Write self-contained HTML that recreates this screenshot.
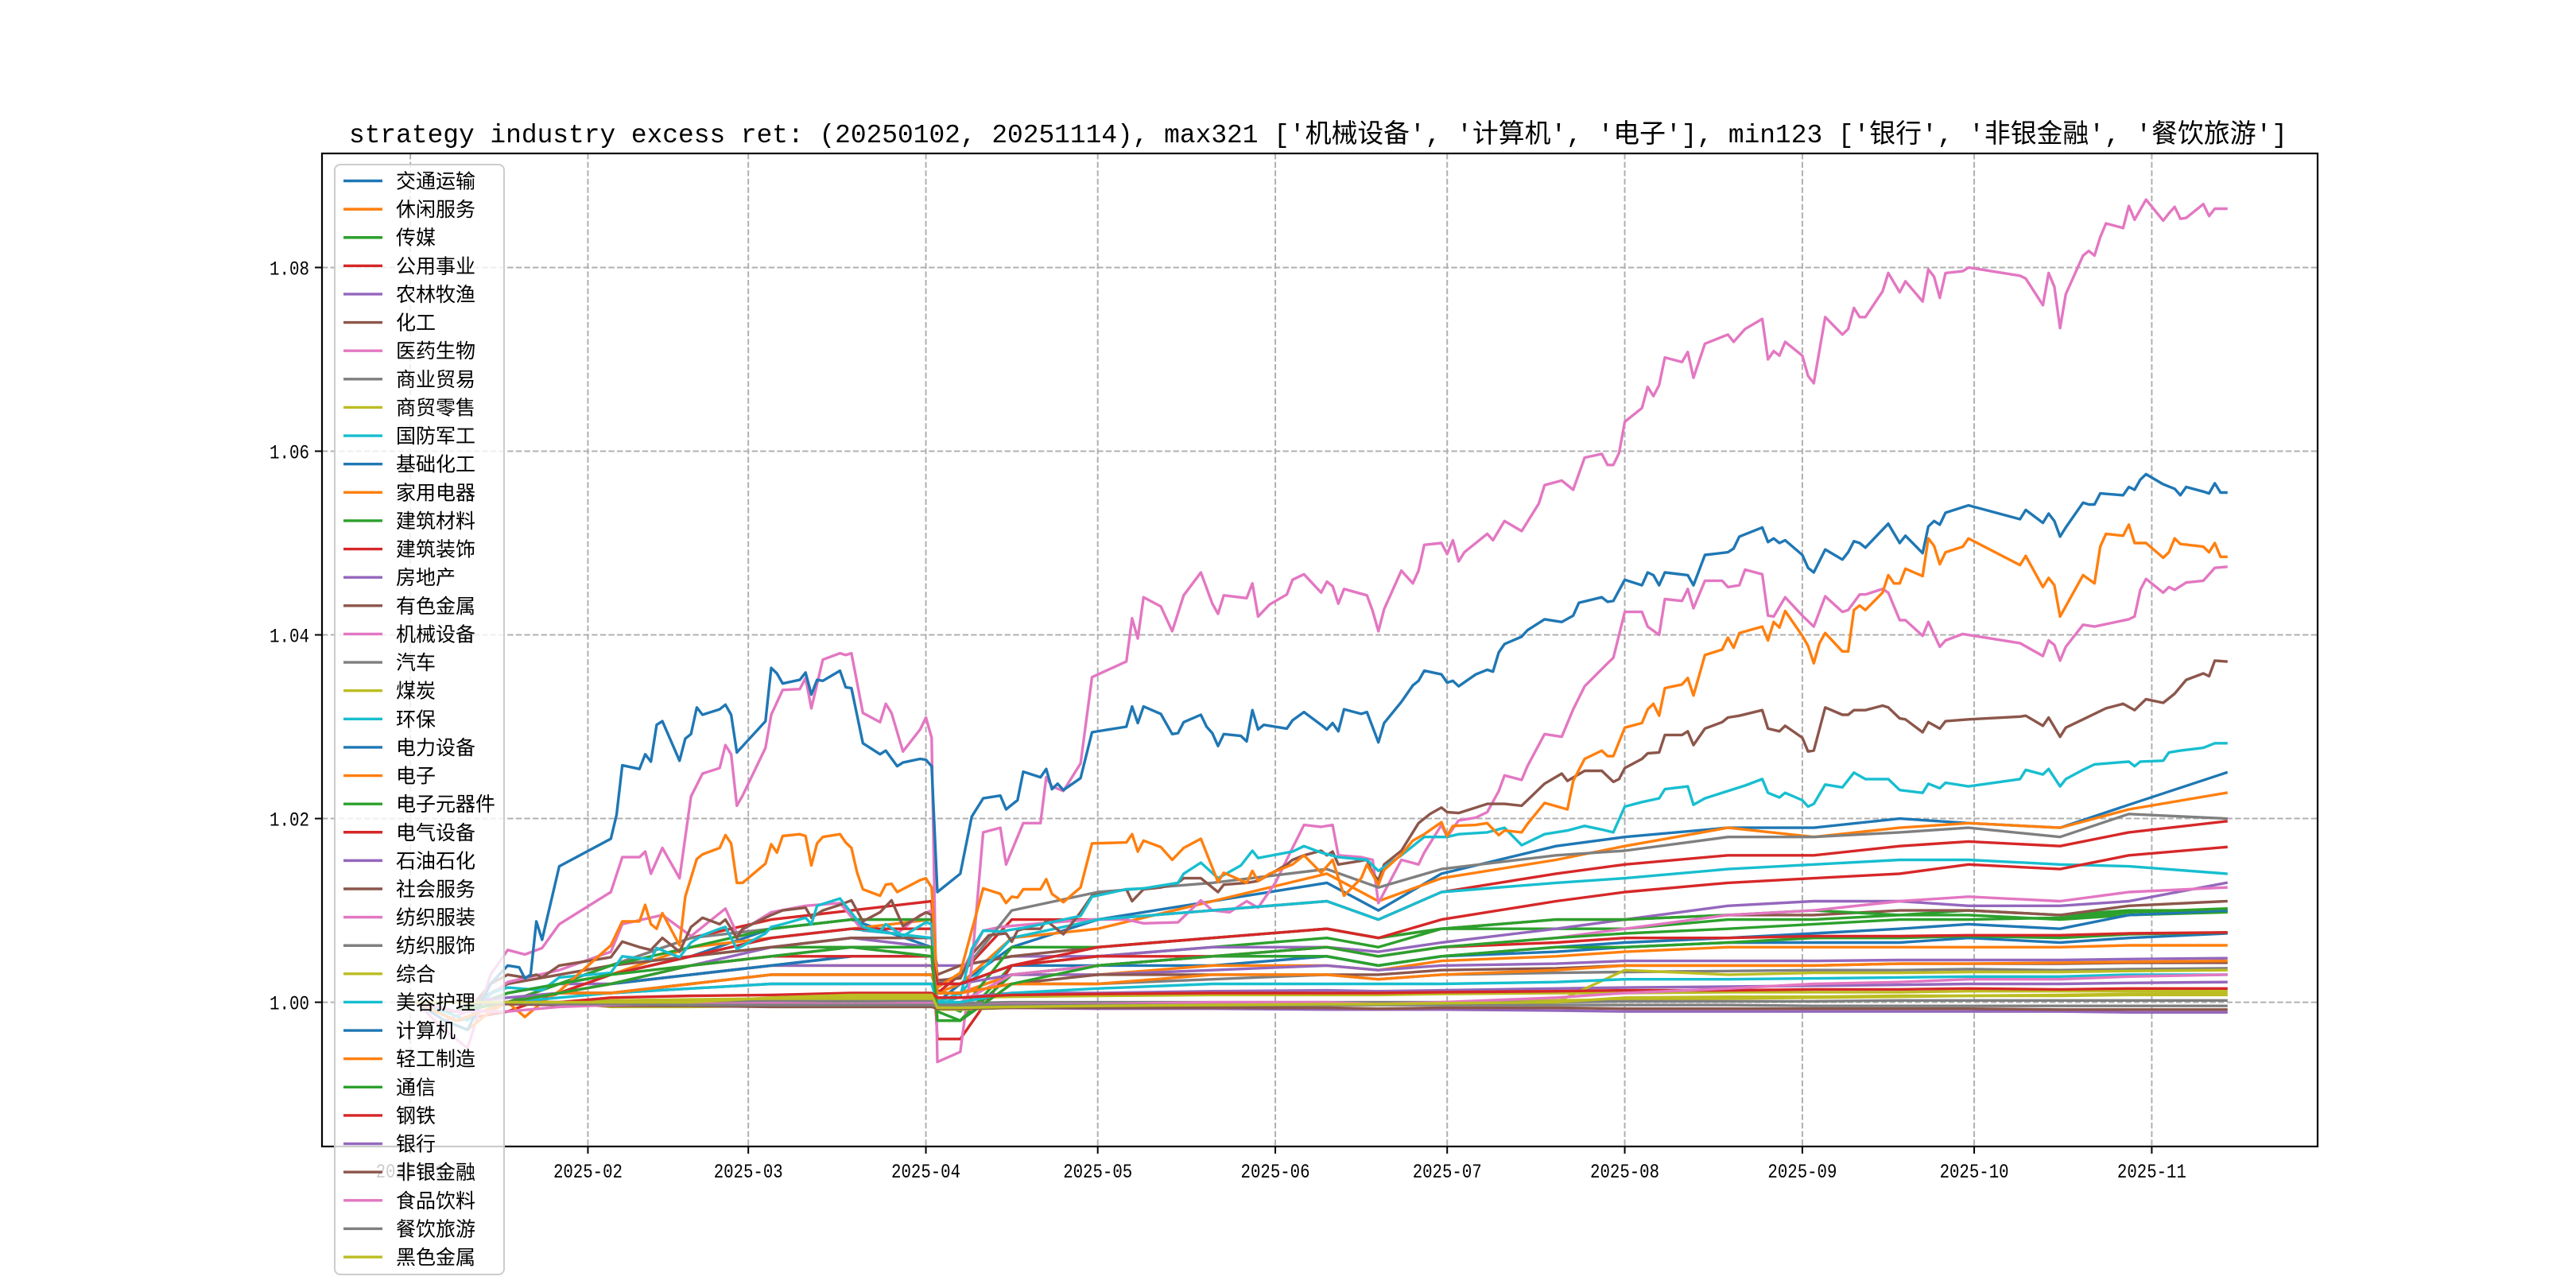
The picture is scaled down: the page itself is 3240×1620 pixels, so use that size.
<!DOCTYPE html>
<html><head><meta charset="utf-8">
<style>
html,body{margin:0;padding:0;background:#fff;}
svg{display:block;}
</style></head>
<body>
<svg id="chart" xmlns="http://www.w3.org/2000/svg" width="3240" height="1620" viewBox="0 0 3240 1620">
<rect x="0" y="0" width="3240" height="1620" fill="#fff"/>
<text x="1658" y="179" text-anchor="middle" font-size="33" textLength="2438" lengthAdjust="spacingAndGlyphs" font-family="'Liberation Mono','Noto Sans CJK SC',monospace" fill="#000">strategy industry excess ret: (20250102, 20251114), max321 ['机械设备', '计算机', '电子'], min123 ['银行', '非银金融', '餐饮旅游']</text>
<g id="grid"></g>
<g id="lines"></g>
<g id="axes"></g>
<g id="legend"></g>
</svg>
<script>
const names = ["交通运输","休闲服务","传媒","公用事业","农林牧渔","化工","医药生物","商业贸易","商贸零售","国防军工","基础化工","家用电器","建筑材料","建筑装饰","房地产","有色金属","机械设备","汽车","煤炭","环保","电力设备","电子","电子元器件","电气设备","石油石化","社会服务","纺织服装","纺织服饰","综合","美容护理","计算机","轻工制造","通信","钢铁","银行","非银金融","食品饮料","餐饮旅游","黑色金属"];
const palette = ["#1f77b4","#ff7f0e","#2ca02c","#d62728","#9467bd","#8c564b","#e377c2","#7f7f7f","#bcbd22","#17becf"];
const yTicks = [1.00,1.02,1.04,1.06,1.08];
const yTickLabels = ["1.00","1.02","1.04","1.06","1.08"];
const xTickDays = [0,31,59,90,120,151,181,212,243,273,304];
const xTickLabels = ["2025-01","2025-02","2025-03","2025-04","2025-05","2025-06","2025-07","2025-08","2025-09","2025-10","2025-11"];

const coarseDays = [1,8,17,26,35,49,63,77,91,92,96,105,120,140,160,169,180,200,212,230,245,260,272,288,300,317];
const coarseValues = {
"交通运输":[1,0.999,1.001,1.002,1.003,1.005,1.008,1.009,1.006,1.0,1.002,1.006,1.009,1.011,1.013,1.010,1.014,1.017,1.018,1.019,1.019,1.020,1.0195,1.019,1.0215,1.025],
"休闲服务":[1,0.998,1.0,1.001,1.003,1.006,1.007,1.008,1.009,1.001,1.002,1.007,1.008,1.011,1.014,1.011,1.0135,1.0155,1.017,1.019,1.018,1.019,1.0195,1.019,1.021,1.0228],
"传媒":[1,0.999,1.001,1.002,1.003,1.005,1.006,1.006,1.006,0.998,0.998,1.004,1.005,1.006,1.007,1.006,1.008,1.008,1.008,1.009,1.009,1.0095,1.010,1.0095,1.010,1.010],
"公用事业":[1,0.998,1.0,1.002,1.004,1.007,1.009,1.010,1.011,1.001,1.003,1.009,1.009,1.010,1.011,1.009,1.012,1.014,1.015,1.016,1.016,1.017,1.0175,1.017,1.0185,1.0197],
"农林牧渔":[1,0.999,1.001,1.002,1.002,1.004,1.006,1.007,1.006,1.004,1.004,1.005,1.005,1.006,1.006,1.0055,1.0065,1.008,1.009,1.0105,1.011,1.011,1.0105,1.0105,1.011,1.013],
"化工":[1,0.999,1.002,1.003,1.004,1.005,1.006,1.007,1.007,1.003,1.004,1.005,1.006,1.007,1.008,1.007,1.008,1.009,1.009,1.0095,1.0095,1.010,1.010,1.0095,1.0105,1.011],
"商业贸易":[1,0.999,1.001,1.002,1.004,1.007,1.008,1.009,1.009,1.002,1.003,1.010,1.012,1.013,1.0145,1.0125,1.0145,1.016,1.0165,1.018,1.018,1.0185,1.019,1.018,1.0205,1.020],
"商贸零售":[1,1.0,1.0,1.0,1.0002,1.0003,1.0004,1.0005,1.0006,1.0004,1.0005,1.0006,1.0007,1.0008,1.0008,1.0008,1.0009,1.001,1.001,1.0011,1.0011,1.0011,1.0012,1.0012,1.0012,1.0012],
"国防军工":[1,0.999,1.001,1.002,1.003,1.005,1.007,1.008,1.007,1.0,1.001,1.007,1.009,1.010,1.011,1.009,1.012,1.013,1.0135,1.0145,1.015,1.0155,1.0155,1.015,1.0148,1.014],
"基础化工":[1,0.999,1.0,1.001,1.002,1.003,1.004,1.005,1.005,1.001,1.001,1.003,1.004,1.004,1.005,1.004,1.005,1.0055,1.006,1.0065,1.0065,1.0065,1.007,1.0065,1.007,1.0075],
"家用电器":[1,0.999,1.0,1.001,1.002,1.003,1.004,1.004,1.004,1.001,1.001,1.003,1.003,1.004,1.004,1.0035,1.0045,1.005,1.0055,1.006,1.006,1.006,1.006,1.006,1.0062,1.0062],
"建筑材料":[1,0.998,1.0,1.002,1.004,1.006,1.008,1.009,1.009,1.0,0.999,1.006,1.006,1.007,1.008,1.007,1.008,1.009,1.009,1.0095,1.010,1.0095,1.0095,1.009,1.0095,1.0098],
"建筑装饰":[1,0.998,0.999,1.001,1.003,1.005,1.007,1.008,1.008,0.996,0.996,1.004,1.006,1.007,1.008,1.007,1.009,1.011,1.012,1.013,1.0135,1.014,1.015,1.0145,1.016,1.0169],
"房地产":[1,0.999,1.0,1.001,1.002,1.003,1.004,1.004,1.004,1.002,1.002,1.003,1.003,1.0035,1.004,1.0035,1.004,1.0042,1.0045,1.0045,1.0045,1.0046,1.0046,1.0046,1.0047,1.0048],
"汽车":[1,0.999,1.0,1.001,1.001,1.002,1.003,1.003,1.003,1.001,1.001,1.002,1.002,1.0025,1.003,1.0025,1.003,1.0032,1.0033,1.0034,1.0035,1.0035,1.0036,1.0035,1.0036,1.0037],
"煤炭":[1,1.0,1.0,1.0,1.0,1.0001,1.0002,1.0003,1.0003,0.9995,0.9995,0.9997,0.9998,0.9999,1.0,0.9999,1.0,1.0002,1.0003,1.0004,1.0005,1.0006,1.0007,1.0007,1.0008,1.0008],
"电力设备":[1,0.999,1.0,1.001,1.002,1.003,1.004,1.005,1.005,1.002,1.002,1.004,1.004,1.005,1.005,1.004,1.005,1.006,1.0065,1.007,1.0075,1.008,1.0085,1.008,1.0095,1.010],
"电子元器件":[1,0.999,1.001,1.002,1.003,1.004,1.005,1.006,1.006,0.998,0.998,1.003,1.004,1.005,1.005,1.004,1.005,1.006,1.006,1.0065,1.007,1.007,1.0072,1.007,1.0074,1.0076],
"电气设备":[1,0.999,1.0,1.001,1.002,1.004,1.005,1.005,1.005,1.002,1.002,1.004,1.005,1.005,1.006,1.005,1.006,1.0065,1.007,1.007,1.0072,1.0072,1.0073,1.0073,1.0075,1.0076],
"石油石化":[1,1.0,1.0005,1.001,1.001,1.0015,1.002,1.002,1.002,1.0005,1.0005,1.001,1.001,1.0012,1.0013,1.0012,1.0013,1.0015,1.0016,1.0017,1.0018,1.0019,1.002,1.002,1.0021,1.0022],
"社会服务":[1,0.999,1.0,1.001,1.001,1.002,1.003,1.003,1.003,1.001,1.001,1.002,1.003,1.003,1.003,1.003,1.0035,1.0037,1.004,1.004,1.004,1.0042,1.0042,1.0042,1.0043,1.0043],
"纺织服装":[1,0.998,1.0,1.001,1.002,1.004,1.005,1.006,1.005,1.0,1.0,1.003,1.004,1.005,1.006,1.005,1.006,1.007,1.008,1.0095,1.010,1.011,1.0115,1.011,1.012,1.0125],
"纺织服饰":[1,1.0,1.0,1.0,1.0,1.0,1.0001,1.0001,1.0001,0.9999,0.9999,1.0,1.0,1.0,1.0,1.0,1.0,1.0,1.0001,1.0001,1.0001,1.0002,1.0002,1.0002,1.0002,1.0002],
"综合":[1,1.0,1.0,1.0,0.9995,0.9995,0.9996,0.9997,0.9997,0.9992,0.9992,0.9994,0.9995,0.9996,0.9997,0.9997,0.9998,1.0,1.0035,1.003,1.0032,1.0032,1.0033,1.0033,1.0034,1.0035],
"美容护理":[1,1.0,1.0,1.0005,1.001,1.0015,1.002,1.002,1.002,1.0,1.0,1.001,1.0015,1.002,1.002,1.002,1.002,1.0022,1.0025,1.0025,1.0026,1.0027,1.0028,1.0028,1.003,1.003],
"轻工制造":[1,0.998,1.0,1.001,1.001,1.002,1.003,1.003,1.003,1.001,1.001,1.002,1.002,1.003,1.003,1.0025,1.003,1.0035,1.004,1.004,1.004,1.0042,1.0042,1.0043,1.0044,1.0045],
"通信":[1,0.999,1.0,1.001,1.002,1.004,1.005,1.006,1.005,0.999,0.998,1.002,1.004,1.005,1.006,1.005,1.006,1.007,1.0075,1.008,1.0085,1.009,1.009,1.0092,1.0098,1.0102],
"钢铁":[1,1.0,1.0,1.0,1.0005,1.0007,1.0008,1.001,1.001,1.0005,1.0005,1.0008,1.0009,1.001,1.001,1.001,1.0011,1.0012,1.0013,1.0013,1.0014,1.0014,1.0015,1.0014,1.0015,1.0015],
"银行":[1,1.0,1.0,1.0,0.9998,0.9997,0.9997,0.9996,0.9996,0.9993,0.9993,0.9994,0.9993,0.9993,0.9992,0.9992,0.9992,0.9991,0.999,0.999,0.999,0.999,0.999,0.999,0.9989,0.9989],
"非银金融":[1,1.0,0.9998,0.9997,0.9996,0.9996,0.9995,0.9995,0.9995,0.9993,0.9993,0.9994,0.9994,0.9994,0.9994,0.9993,0.9994,0.9994,0.9993,0.9993,0.9993,0.9993,0.9993,0.9992,0.9992,0.9992],
"食品饮料":[1,0.999,0.999,0.9995,0.9997,0.9998,0.9999,0.9998,0.9999,0.9995,0.9996,0.9998,0.9998,1.0,1.0,0.9998,1.0,1.0005,1.001,1.0015,1.002,1.0022,1.0025,1.0025,1.0028,1.003],
"餐饮旅游":[1,1.0,1.0,0.9998,0.9998,0.9997,0.9997,0.9997,0.9997,0.9996,0.9996,0.9997,0.9997,0.9997,0.9997,0.9997,0.9997,0.9997,0.9997,0.9997,0.9996,0.9996,0.9996,0.9996,0.9996,0.9996],
"黑色金属":[1,1.0,1.0,1.0,1.0,1.0,1.0005,1.0008,1.0008,0.9994,0.9994,0.9995,0.9996,0.9997,0.9998,0.9998,0.9999,1.0,1.0005,1.0006,1.0006,1.0007,1.0007,1.0008,1.0009,1.001]
};

const machDays = [1,6,10,14,17,20,23,26,35,37,40,41,42,44,47,49,51,54,55,56,57,58,62,63,65,68,69,70,72,75,76,77,79,82,83,84,86,89,90,91,92,96,98,100,103,104,105,107,110,111,112,114,117,119,125,126,127,128,131,133,135,138,140,141,142,146,147,148,150,153,154,156,159,160,161,162,163,167,168,169,170,173,175,176,177,180,181,182,183,184,188,189,191,194,197,198,201,203,205,208,209,210,211,212,215,216,217,218,219,222,223,224,226,230,231,233,236,237,238,239,240,243,244,245,247,250,251,252,253,254,257,258,260,261,264,265,266,267,268,271,272,281,282,285,286,287,288,289,292,293,294,295,296,299,300,301,303,306,307,308,309,310,313,314,315,317];
const machValues = [1.0,0.997,0.995,1.003,1.0057,1.0052,1.0059,1.0085,1.012,1.0158,1.0158,1.0164,1.014,1.0168,1.0135,1.0224,1.0249,1.0255,1.028,1.027,1.0214,1.0225,1.0277,1.0313,1.034,1.0341,1.0353,1.032,1.0373,1.038,1.0378,1.038,1.0315,1.0305,1.0325,1.0315,1.0273,1.0297,1.031,1.0288,0.9935,0.9946,1.004,1.0185,1.019,1.015,1.0165,1.0195,1.0195,1.0245,1.0235,1.023,1.026,1.0354,1.0371,1.0418,1.0396,1.0441,1.0431,1.0404,1.0443,1.0468,1.0434,1.0423,1.0443,1.044,1.0456,1.042,1.0433,1.0444,1.046,1.0466,1.0446,1.0458,1.0453,1.0434,1.045,1.0443,1.0426,1.0404,1.0428,1.047,1.0456,1.047,1.0498,1.05,1.0488,1.0503,1.048,1.049,1.051,1.0503,1.0524,1.0513,1.0543,1.0563,1.0568,1.0558,1.0593,1.0597,1.0585,1.0585,1.0598,1.0632,1.0647,1.067,1.066,1.0672,1.0702,1.0697,1.0708,1.068,1.0717,1.0727,1.0719,1.0733,1.0744,1.07,1.0709,1.0704,1.0719,1.0704,1.0682,1.0674,1.0746,1.0727,1.0733,1.0756,1.0746,1.0746,1.0774,1.0794,1.0773,1.0785,1.0763,1.0798,1.079,1.0767,1.0794,1.0796,1.08,1.0791,1.0788,1.0759,1.0794,1.0779,1.0734,1.0771,1.0813,1.0818,1.0813,1.0833,1.0848,1.0843,1.0867,1.0852,1.0874,1.0851,1.0859,1.0866,1.0853,1.0854,1.0869,1.0856,1.0864,1.0864];

const compDays = [1,6,10,14,17,19,20,21,22,23,26,35,36,37,40,41,42,43,44,47,48,49,50,51,54,55,56,57,62,63,64,65,68,69,70,71,72,75,76,77,79,82,83,85,86,89,90,91,92,96,98,100,103,104,105,106,107,110,111,112,113,114,117,119,125,126,127,128,131,133,134,135,138,139,140,141,142,145,146,147,148,149,153,154,156,159,160,161,162,163,166,167,169,170,173,175,176,177,180,181,182,183,186,188,189,190,191,194,195,198,201,203,204,208,209,210,212,215,216,217,218,219,223,224,226,230,231,232,236,237,238,239,240,243,244,245,247,250,251,252,253,254,258,260,261,264,265,266,267,268,272,281,282,285,286,287,288,289,292,293,294,295,299,300,301,302,303,306,308,309,310,313,314,315,316,317];
const compValues = [1.0,0.998,0.997,1.002,1.004,1.0038,1.0026,1.003,1.0088,1.0068,1.0148,1.0178,1.0204,1.0258,1.0254,1.027,1.0262,1.0302,1.0306,1.0263,1.0287,1.0292,1.0321,1.0313,1.0319,1.0324,1.0313,1.0272,1.0306,1.0364,1.0358,1.0347,1.0351,1.0359,1.0335,1.0351,1.035,1.0361,1.0343,1.0342,1.0282,1.027,1.0274,1.0257,1.0261,1.0265,1.0264,1.0257,1.012,1.014,1.0202,1.0222,1.0225,1.021,1.0215,1.022,1.0251,1.0245,1.0254,1.0232,1.0238,1.0231,1.0244,1.0294,1.03,1.0322,1.0304,1.0322,1.0314,1.0292,1.0293,1.0305,1.0313,1.03,1.0293,1.0279,1.0292,1.029,1.0284,1.0318,1.0297,1.0302,1.0298,1.0307,1.0316,1.0302,1.0297,1.0304,1.0295,1.0319,1.0314,1.0316,1.0283,1.0304,1.0327,1.0345,1.035,1.0361,1.0357,1.0348,1.035,1.0344,1.0357,1.0362,1.036,1.0381,1.039,1.0398,1.0405,1.0417,1.0414,1.0421,1.0435,1.0441,1.0436,1.0437,1.046,1.0454,1.0468,1.0465,1.0454,1.0468,1.0465,1.0454,1.0487,1.049,1.0494,1.0507,1.0517,1.0501,1.0505,1.05,1.0503,1.0487,1.0473,1.0468,1.0493,1.0482,1.049,1.0502,1.05,1.0495,1.0521,1.05,1.0508,1.0489,1.0518,1.0524,1.052,1.0533,1.0541,1.0526,1.0536,1.0522,1.0532,1.0524,1.0507,1.0517,1.0544,1.0542,1.0542,1.0554,1.0552,1.0561,1.0558,1.0569,1.0575,1.0564,1.0559,1.0552,1.0561,1.0556,1.0554,1.0565,1.0555,1.0555];

const elecDays = [1,6,10,14,17,20,23,26,35,37,40,41,42,43,44,47,48,50,51,54,55,56,57,58,62,63,64,65,68,69,70,71,72,75,76,77,78,79,82,83,84,85,89,90,91,92,96,98,100,103,104,105,106,107,110,111,112,114,117,119,125,126,127,128,131,133,135,138,141,142,146,147,148,150,154,156,159,160,161,163,166,167,169,170,173,175,177,180,181,182,186,188,190,191,194,195,198,202,203,205,208,209,210,212,215,216,217,218,219,222,223,224,226,229,230,231,232,236,237,238,239,240,243,244,245,246,247,250,251,252,253,254,257,258,259,260,261,264,265,266,267,268,271,272,281,282,285,286,287,288,292,294,295,296,299,300,301,303,306,307,308,309,313,314,315,316,317];
const elecValues = [1.0,0.998,0.997,0.999,1.0,0.9984,1.0,1.0012,1.0062,1.0088,1.0088,1.0106,1.0085,1.008,1.0097,1.0062,1.0115,1.0156,1.0161,1.0168,1.0182,1.0173,1.013,1.013,1.0151,1.0172,1.0163,1.0181,1.0183,1.0181,1.0149,1.0173,1.018,1.0183,1.0174,1.0168,1.0141,1.0123,1.0116,1.0128,1.0129,1.012,1.0133,1.0135,1.0125,1.0016,1.0032,1.0078,1.0124,1.0118,1.0108,1.0115,1.0114,1.0123,1.0123,1.0134,1.0118,1.0109,1.0125,1.0173,1.0174,1.0183,1.0164,1.0176,1.0169,1.0155,1.0168,1.0178,1.0131,1.0141,1.013,1.0143,1.0132,1.014,1.015,1.016,1.0141,1.0148,1.0155,1.0116,1.0135,1.015,1.0128,1.0144,1.0161,1.0176,1.0183,1.0196,1.0181,1.0192,1.0193,1.0195,1.0182,1.0187,1.0185,1.0194,1.0217,1.021,1.0241,1.0265,1.0274,1.0268,1.0268,1.0299,1.0304,1.0319,1.0325,1.0312,1.0342,1.0346,1.0353,1.0334,1.0378,1.0384,1.0397,1.0386,1.0402,1.0409,1.0394,1.0414,1.0408,1.0426,1.0399,1.0388,1.0369,1.0391,1.0402,1.0382,1.0382,1.0427,1.0432,1.0427,1.0446,1.0465,1.0456,1.0456,1.0472,1.0464,1.0505,1.0497,1.0477,1.049,1.0496,1.0505,1.0476,1.0486,1.0452,1.0462,1.0454,1.042,1.0465,1.0456,1.0496,1.051,1.0508,1.052,1.05,1.05,1.0484,1.049,1.0505,1.0499,1.0496,1.049,1.05,1.0485,1.0485];

const pharmDays = [1,6,10,17,26,35,37,44,49,55,57,63,69,75,79,85,89,91,92,96,100,103,110,119,125,128,134,138,140,143,146,148,151,154,156,159,161,162,166,168,169,173,176,177,180,181,183,186,188,190,191,194,195,198,201,203,205,209,210,212,215,216,218,219,222,223,224,226,229,230,232,233,236,237,238,240,243,245,247,250,251,253,254,257,258,260,261,264,265,267,268,271,281,285,286,287,288,289,292,294,300,301,302,303,306,307,308,310,313,315,317];
const pharmValues = [1.0,0.998,0.999,1.0022,1.0035,1.0055,1.0085,1.0095,1.0072,1.0102,1.0075,1.0098,1.0105,1.0108,1.0078,1.0075,1.0095,1.010,1.002,1.003,1.0078,1.0082,1.0086,1.009,1.009,1.0086,1.0087,1.0111,1.010,1.0098,1.011,1.0103,1.013,1.0168,1.0193,1.0191,1.0193,1.016,1.0158,1.0155,1.0108,1.0155,1.015,1.0163,1.0193,1.018,1.0198,1.0201,1.0207,1.023,1.0247,1.0242,1.0257,1.0292,1.0289,1.0319,1.0344,1.0369,1.0375,1.0425,1.0425,1.0409,1.04,1.0439,1.0437,1.045,1.0429,1.0459,1.0459,1.0452,1.0454,1.0471,1.0466,1.0421,1.042,1.0441,1.0421,1.0409,1.0442,1.0425,1.0427,1.0444,1.0444,1.045,1.0446,1.0416,1.0416,1.0399,1.0414,1.0387,1.0394,1.0401,1.0391,1.0377,1.0394,1.0389,1.0372,1.0387,1.0411,1.0409,1.0417,1.042,1.0449,1.0461,1.0446,1.0452,1.0449,1.0457,1.0459,1.0473,1.0474];

const metalDays = [1,6,10,14,17,20,22,23,26,35,37,40,42,44,47,49,51,54,55,57,58,62,63,65,69,70,72,75,77,79,82,84,86,90,91,92,96,98,101,104,105,106,107,110,111,114,117,119,125,126,128,131,134,135,138,140,141,142,146,148,153,154,156,159,160,161,162,167,168,169,170,173,176,178,180,181,183,186,188,191,194,198,201,202,205,208,210,211,212,215,216,218,219,222,223,224,226,229,230,232,236,237,239,240,243,244,245,247,250,251,252,254,257,258,260,261,264,265,267,268,272,281,282,285,286,288,289,292,296,299,301,303,306,308,310,313,314,315,317];
const metalValues = [1.0,0.999,0.999,1.002,1.003,1.0027,1.003,1.0027,1.004,1.0049,1.0066,1.006,1.0057,1.007,1.0055,1.0082,1.0092,1.0085,1.009,1.007,1.008,1.0092,1.0095,1.01,1.0103,1.0092,1.01,1.0106,1.0111,1.0088,1.0098,1.0111,1.0083,1.0098,1.0095,1.0024,1.0026,1.0052,1.0073,1.0075,1.0066,1.0078,1.008,1.008,1.0089,1.0074,1.0098,1.0116,1.0123,1.011,1.0123,1.0125,1.013,1.0135,1.0135,1.0125,1.012,1.0128,1.013,1.0132,1.015,1.0155,1.016,1.0165,1.016,1.0164,1.015,1.0155,1.014,1.0133,1.015,1.0165,1.0195,1.0205,1.0212,1.0207,1.0206,1.0212,1.0216,1.0216,1.0214,1.0238,1.0249,1.0241,1.0252,1.0252,1.024,1.0243,1.0255,1.0265,1.0271,1.0272,1.0291,1.0291,1.0295,1.028,1.0298,1.0305,1.031,1.0312,1.0318,1.0298,1.0295,1.0301,1.0288,1.0273,1.0274,1.0321,1.0313,1.0313,1.0318,1.0318,1.0323,1.0321,1.0309,1.0308,1.0294,1.0305,1.0298,1.0306,1.0308,1.0311,1.0312,1.0301,1.031,1.0289,1.0299,1.0308,1.032,1.0325,1.0318,1.033,1.0326,1.0336,1.0351,1.0358,1.0355,1.0372,1.0371];

const envDays = [1,6,10,14,17,23,26,35,37,40,42,43,47,49,51,54,55,57,62,63,65,69,70,71,75,76,79,82,83,86,90,91,92,96,98,100,103,107,111,114,117,119,125,128,134,135,138,141,145,147,148,154,156,159,162,167,169,173,177,181,183,188,191,194,198,202,205,208,210,212,215,218,219,223,224,226,230,233,236,237,239,240,243,244,245,247,250,252,254,258,260,264,265,267,268,272,281,282,285,286,288,289,292,294,300,301,302,306,307,309,313,315,317];
const envValues = [1.0,0.999,0.998,1.001,1.0016,1.0013,1.0027,1.0032,1.005,1.0048,1.0047,1.0059,1.0049,1.0065,1.0073,1.008,1.0082,1.0058,1.0075,1.0082,1.0085,1.0092,1.0085,1.0105,1.0113,1.0105,1.0082,1.0077,1.0085,1.0072,1.0087,1.0085,0.9997,1.0006,1.0058,1.0078,1.0077,1.0081,1.0086,1.009,1.0094,1.0115,1.0123,1.0124,1.013,1.014,1.0152,1.0135,1.0149,1.0165,1.0157,1.0164,1.017,1.0163,1.0158,1.0155,1.0143,1.016,1.018,1.018,1.0183,1.0185,1.019,1.0171,1.0183,1.0187,1.0192,1.0188,1.0185,1.0213,1.0218,1.0222,1.0232,1.0235,1.0215,1.0222,1.023,1.0236,1.0243,1.0228,1.0223,1.0228,1.022,1.0213,1.0216,1.0237,1.0234,1.025,1.0243,1.0243,1.0231,1.0228,1.0238,1.0233,1.0239,1.0235,1.0243,1.0253,1.0248,1.0254,1.0235,1.0243,1.0253,1.0259,1.0262,1.0257,1.0262,1.0263,1.0272,1.0274,1.0277,1.0282,1.0282];

const detailSeries = {
  "机械设备":[machDays,machValues],
  "计算机":[compDays,compValues],
  "电子":[elecDays,elecValues],
  "医药生物":[pharmDays,pharmValues],
  "有色金属":[metalDays,metalValues],
  "环保":[envDays,envValues]
};

const NS = "http://www.w3.org/2000/svg";
const AX = {left:405, right:2915, top:193, bottom:1442};
function xScale(d){ return 516.1 + 7.205*d; }
function yScale(v){ return 1260.6 - (v-1)*11552; }

function mk(tag, attrs, parent){
  const e = document.createElementNS(NS, tag);
  for (const k in attrs) e.setAttribute(k, attrs[k]);
  parent.appendChild(e);
  return e;
}

const grid = document.getElementById('grid');
const lines = document.getElementById('lines');
const axes = document.getElementById('axes');
const legend = document.getElementById('legend');

xTickDays.forEach(function(d, i){
  const x = xScale(d);
  const g = mk('line', {x1:x, x2:x, y1:AX.top, y2:AX.bottom, stroke:'#b0b0b0', 'stroke-width':2, 'stroke-dasharray':'7.4,3.2'}, grid);
  
  
});
yTicks.forEach(function(v, i){
  const y = yScale(v);
  const g = mk('line', {x1:AX.left, x2:AX.right, y1:y, y2:y, stroke:'#b0b0b0', 'stroke-width':2, 'stroke-dasharray':'7.4,3.2'}, grid);
  
  
});

names.forEach(function(n, i){
  let days, vals;
  if (detailSeries[n]) { days = detailSeries[n][0]; vals = detailSeries[n][1]; }
  else { days = coarseDays; vals = coarseValues[n]; }
  let dstr = '';
  for (let k = 0; k < days.length; k++) {
    dstr += (k ? 'L' : 'M') + xScale(days[k]).toFixed(1) + ',' + yScale(vals[k]).toFixed(1);
  }
  const p = mk('path', {d:dstr, fill:'none', stroke:palette[i % 10], 'stroke-width':3.4, 'stroke-linejoin':'round', 'stroke-linecap':'square'}, lines);
  
  
});

const defs = mk('defs', {}, document.getElementById('chart'));
const cp = mk('clipPath', {id:'plotclip'}, defs);
mk('rect', {x:AX.left, y:AX.top, width:AX.right-AX.left, height:AX.bottom-AX.top}, cp);
lines.setAttribute('clip-path', 'url(#plotclip)');

const frame = mk('rect', {x:AX.left, y:AX.top, width:AX.right-AX.left, height:AX.bottom-AX.top, fill:'none', stroke:'#000', 'stroke-width':2.2}, axes);



xTickDays.forEach(function(d, i){
  const x = xScale(d);
  const t = mk('line', {x1:x, x2:x, y1:AX.bottom, y2:AX.bottom+9, stroke:'#000', 'stroke-width':2}, axes);
  
  
  const lb = mk('text', {x:x, y:AX.bottom+39, 'text-anchor':'middle', 'font-size':25, 'font-family':"'Liberation Mono',monospace", textLength:87, lengthAdjust:'spacingAndGlyphs', fill:'#000'}, axes);
  lb.textContent = xTickLabels[i];
  
  
});
yTicks.forEach(function(v, i){
  const y = yScale(v);
  const t = mk('line', {x1:AX.left-9, x2:AX.left, y1:y, y2:y, stroke:'#000', 'stroke-width':2}, axes);
  
  
  const lb = mk('text', {x:AX.left-16, y:y+9, 'text-anchor':'end', 'font-size':25, 'font-family':"'Liberation Mono',monospace", textLength:50, lengthAdjust:'spacingAndGlyphs', fill:'#000'}, axes);
  lb.textContent = yTickLabels[i];
  
  
});

const lbox = mk('rect', {x:421, y:207, width:213, height:1396, rx:7, ry:7, fill:'#ffffff', 'fill-opacity':0.8, stroke:'#cccccc', 'stroke-width':2}, legend);


names.forEach(function(n, i){
  const y = 227.5 + i*35.62;
  const g = mk('g', {}, legend);
  
  
  mk('line', {x1:432, x2:481, y1:y, y2:y, stroke:palette[i % 10], 'stroke-width':3.4}, g);
  const t = mk('text', {x:498, y:y+9, 'font-size':25, 'font-family':"'Liberation Sans','Noto Sans CJK SC',sans-serif", fill:'#000'}, g);
  t.textContent = n;
});
</script>
</body></html>
